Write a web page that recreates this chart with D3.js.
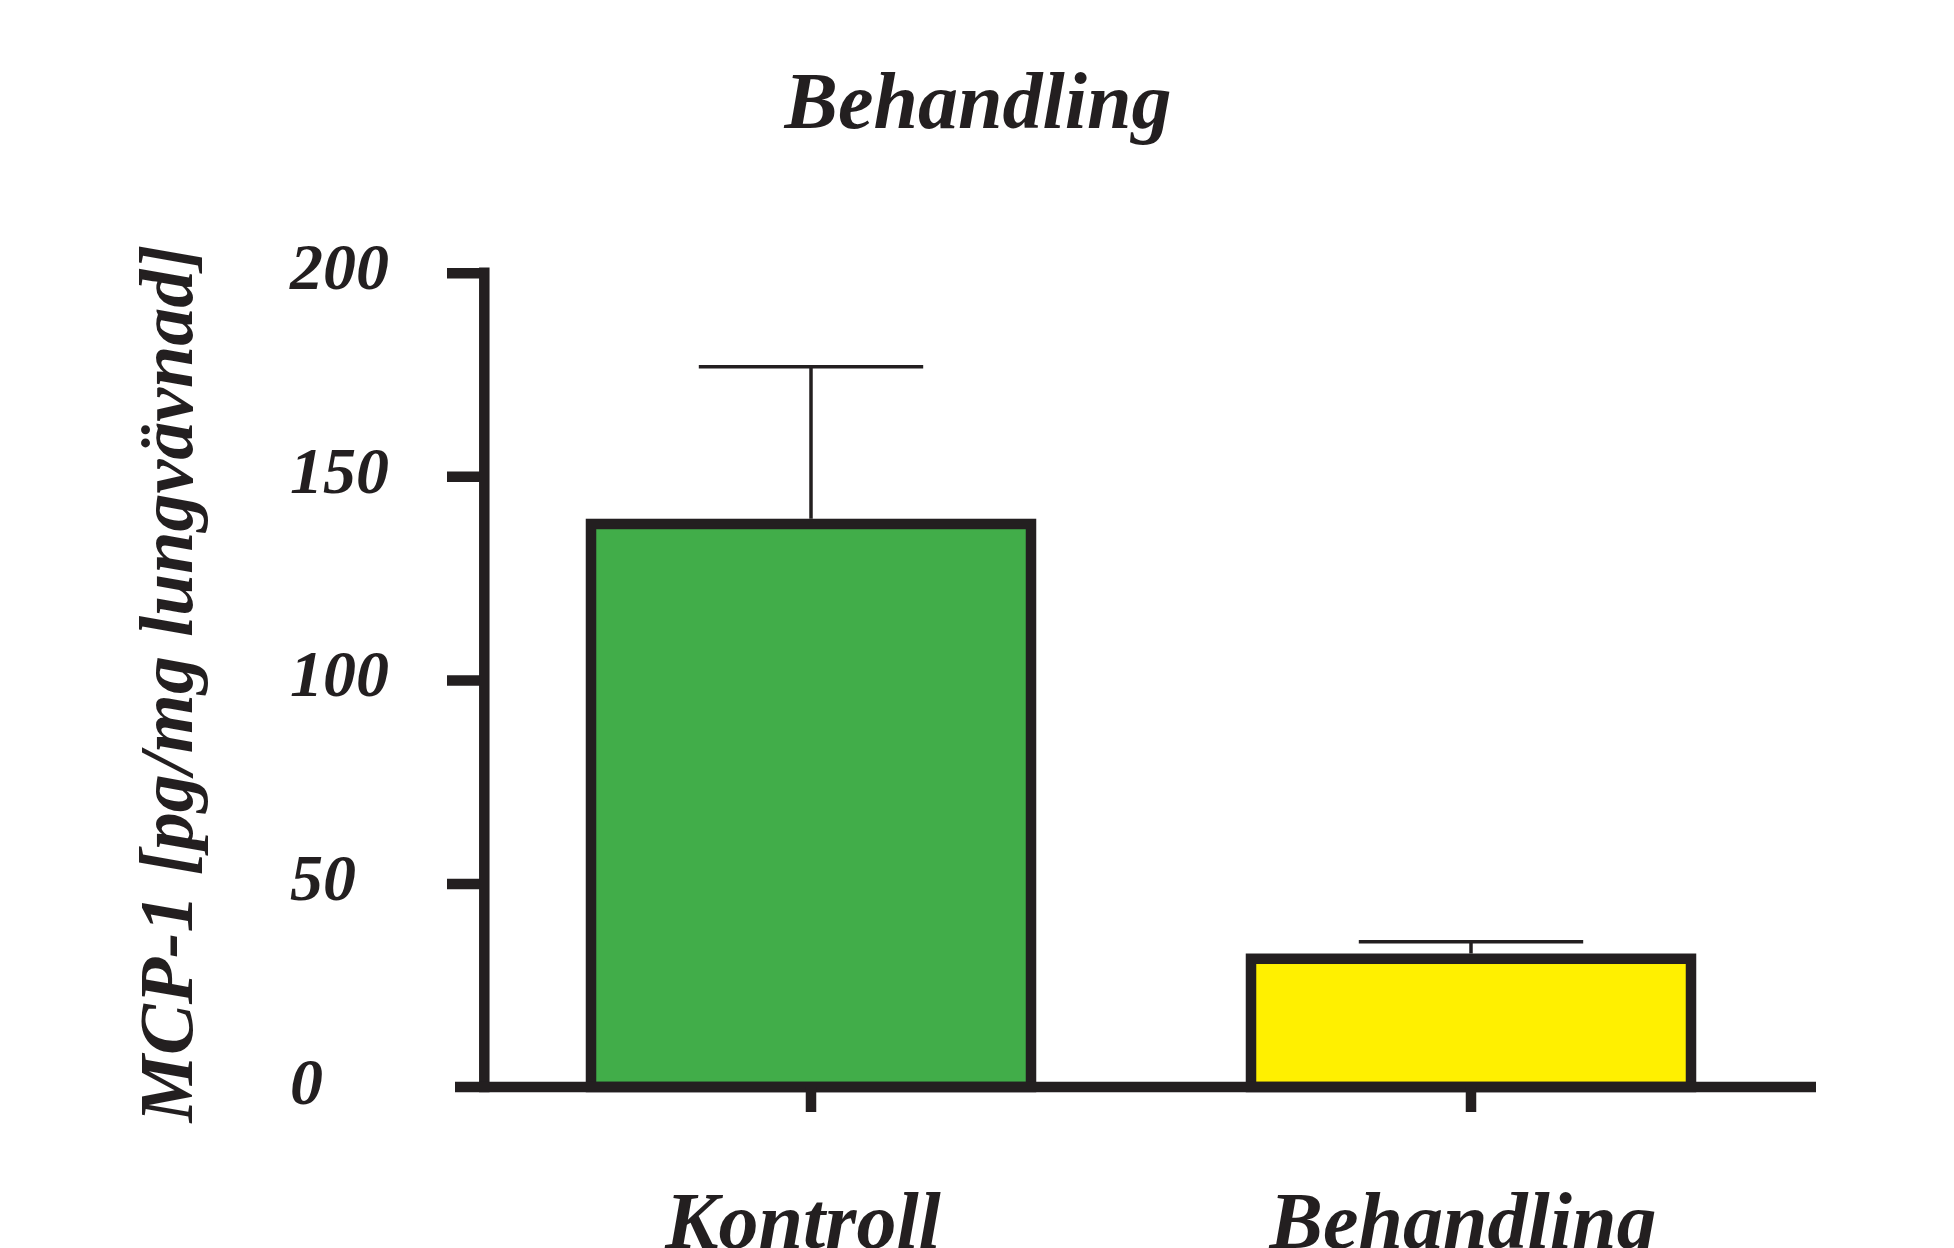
<!DOCTYPE html>
<html>
<head>
<meta charset="utf-8">
<script src="https://cdn.jsdelivr.net/npm/d3@7"></script>
<style>
  html, body { margin: 0; padding: 0; background: #ffffff; }
  svg { display: block; }
  text { font-family: "Liberation Serif", "DejaVu Serif", serif; font-style: italic; font-weight: bold; fill: #231f20; }
</style>
</head>
<body>
<svg id="chart" width="1954" height="1248"></svg>
<script>
// ---- data ----
const categories = ["Kontroll", "Behandling"];
const means = [138.3, 31.5];
const sems = [38.6, 4.2];
const barColors = ["#41ad49", "#fff000"];
const yTicks = [0, 50, 100, 150, 200];
const yTickLabels = ["0", "50", "100", "150", "200"];
const titleText = "Behandling";
const yTitleText = "MCP-1 [pg/mg lungvävnad]";

// ---- layout ----
const ink = "#231f20";
const svg = d3.select("#chart");

const y = d3.scaleLinear().domain([0, 200]).range([1087, 272.8]);
const x = d3.scaleBand().domain(categories).range([481, 1801])
  .paddingInner(1 / 3).paddingOuter(1 / 6);

const axisX = 484.3;
const lineW = 10.5;

// title
svg.append("text")
  .attr("x", 978).attr("y", 128)
  .attr("text-anchor", "middle")
  .attr("font-size", 80)
  .text(titleText);

// y axis title
svg.append("text")
  .attr("transform", `translate(192,683.5) rotate(-90)`)
  .attr("text-anchor", "middle")
  .attr("font-size", 76)
  .text(yTitleText);

// bars
const g = svg.append("g");
g.selectAll("rect.bar")
  .data(categories)
  .join("rect")
  .attr("class", "bar")
  .attr("x", d => x(d))
  .attr("width", x.bandwidth())
  .attr("y", (d, i) => y(means[i]))
  .attr("height", (d, i) => y(0) - y(means[i]))
  .attr("fill", (d, i) => barColors[i])
  .attr("stroke", ink)
  .attr("stroke-width", lineW);

// error bars
const capW = x.bandwidth() * 0.51;
g.selectAll("line.err")
  .data(categories)
  .join("line")
  .attr("class", "err")
  .attr("x1", d => x(d) + x.bandwidth() / 2)
  .attr("x2", d => x(d) + x.bandwidth() / 2)
  .attr("y1", (d, i) => y(means[i]) - lineW / 2)
  .attr("y2", (d, i) => y(means[i] + sems[i]))
  .attr("stroke", ink).attr("stroke-width", 3.5);
g.selectAll("line.cap")
  .data(categories)
  .join("line")
  .attr("class", "cap")
  .attr("x1", d => x(d) + x.bandwidth() / 2 - capW / 2)
  .attr("x2", d => x(d) + x.bandwidth() / 2 + capW / 2)
  .attr("y1", (d, i) => y(means[i] + sems[i]))
  .attr("y2", (d, i) => y(means[i] + sems[i]))
  .attr("stroke", ink).attr("stroke-width", 3.5);

// y axis (d3 axis, restyled)
const yAxis = d3.axisLeft(y).tickValues(yTicks)
  .tickFormat((d, i) => yTickLabels[i])
  .tickSizeOuter(0).tickSizeInner(37.3).tickPadding(0);
const ya = svg.append("g").attr("transform", `translate(${axisX},0)`).call(yAxis);
ya.attr("font-family", null).attr("font-size", null);
ya.select(".domain").remove();
ya.selectAll(".tick line")
  .attr("stroke", ink).attr("stroke-width", lineW)
  .attr("display", d => d === 0 ? "none" : null);
ya.selectAll(".tick text")
  .attr("x", 290 - axisX)
  .attr("dy", 16)
  .attr("text-anchor", "start")
  .attr("font-size", 66)
  .attr("fill", ink);
ya.append("line")
  .attr("x1", 0).attr("x2", 0)
  .attr("y1", y(200) - lineW / 2).attr("y2", y(0) + lineW / 2)
  .attr("stroke", ink).attr("stroke-width", lineW);

// x axis
const xAxis = d3.axisBottom(x).tickSizeOuter(0).tickSizeInner(25).tickPadding(0);
const xa = svg.append("g").attr("transform", `translate(0,${y(0)})`).call(xAxis);
xa.attr("font-family", null).attr("font-size", null);
xa.select(".domain").remove();
xa.insert("line", ":first-child")
  .attr("x1", 455).attr("x2", 1816)
  .attr("y1", 0).attr("y2", 0)
  .attr("stroke", ink).attr("stroke-width", lineW);
xa.selectAll(".tick line").attr("stroke", ink).attr("stroke-width", lineW);
xa.selectAll(".tick text")
  .attr("y", 1248 - y(0))
  .attr("dy", 0)
  .attr("x", -8)
  .attr("font-size", 80)
  .attr("fill", ink);
</script>
</body>
</html>
